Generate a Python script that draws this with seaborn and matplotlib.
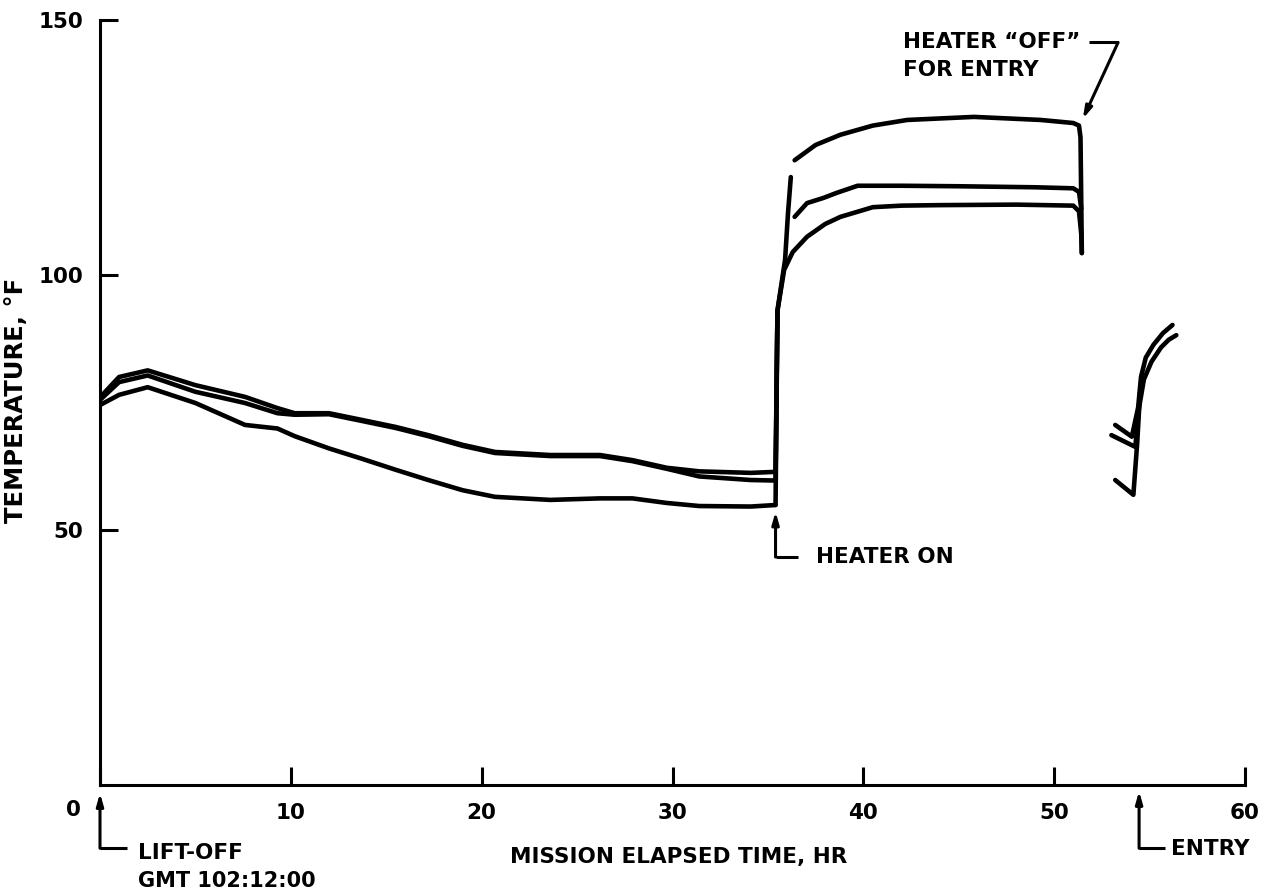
import numpy as np
import pandas as pd
import matplotlib
matplotlib.use('Agg')
import matplotlib.pyplot as plt
import seaborn as sns

# ==================================================
# Data (hours, deg F)
# ==================================================
# cruise, heater off: three sensors share one time base
cruise_hr = [0, 1, 2.5, 5, 7.6, 9.3, 10.2, 12, 13.7, 15.5, 17.2, 19, 20.7,
             23.6, 26.2, 27.9, 29.7, 31.4, 34.1, 35.4]
cruise_a = [76, 80, 81.3, 78.4, 76.1, 73.9, 72.9, 72.9, 71.6, 70.2, 68.6, 66.7,
            65.3, 64.7, 64.7, 63.7, 62.2, 61.5, 61.2, 61.4]
cruise_b = [75.5, 79, 80.3, 77.1, 74.9, 72.9, 72.6, 72.7, 71.4, 70.0, 68.4,
            66.5, 65.1, 64.5, 64.5, 63.5, 62.0, 60.5, 59.8, 59.7]
cruise_c = [74.5, 76.5, 78, 74.9, 70.6, 69.9, 68.4, 66.0, 64.0, 61.8, 59.8,
            57.8, 56.5, 55.9, 56.2, 56.2, 55.3, 54.7, 54.6, 54.9]

# heater on
rise_a_hr = [35.4, 35.5, 35.9, 36.05, 36.2]
rise_a = [61.4, 93, 103, 112, 119.2]
heat_a_hr = [36.4, 37.5, 38.8, 40.5, 42.3, 45.8, 49.3, 51.0, 51.3, 51.38, 51.45]
heat_a = [122.5, 125.5, 127.5, 129.3, 130.4, 131, 130.4, 129.8, 129.3, 127, 104.3]

rise_b_hr = [35.4, 35.5]
rise_b = [59.7, 93]
heat_b_hr = [36.4, 37.05, 37.9, 38.6, 39.7, 42, 45, 49, 51, 51.3, 51.42]
heat_b = [111.4, 114.1, 115.1, 116.1, 117.5, 117.5, 117.4, 117.2, 117.0, 116.3, 113]

heat_c_hr = [35.4, 35.5, 35.85, 36.3, 37.05, 38.0, 38.8, 40.5, 42, 44, 48, 51,
             51.3, 51.42, 51.45]
heat_c = [54.9, 93, 101, 104.5, 107.5, 110, 111.4, 113.3, 113.6, 113.7, 113.8,
          113.6, 112.5, 108, 104.3]

# entry
entry_a_hr = [53.2, 54.07, 54.4, 54.55, 54.8, 55.2, 55.7, 56.2]
entry_a = [70.6, 68.3, 74, 80, 83.8, 86.3, 88.6, 90.2]
entry_b_hr = [53.0, 54.25, 54.45, 54.7, 55.1, 55.6, 56.0, 56.4]
entry_b = [68.6, 66.3, 74, 79.5, 83, 85.8, 87.3, 88.2]
entry_c_hr = [53.2, 54.15, 54.35, 54.5]
entry_c = [59.8, 56.9, 67, 77]

x_ticks = [0, 10, 20, 30, 40, 50, 60]
y_ticks = [50, 100, 150]

# ==================================================
# Long table, one "trace" per unbroken pen stroke
# ==================================================
pieces = [
    ('cruise_a', cruise_hr, cruise_a), ('cruise_b', cruise_hr, cruise_b),
    ('cruise_c', cruise_hr, cruise_c),
    ('rise_a', rise_a_hr, rise_a), ('heat_a', heat_a_hr, heat_a),
    ('rise_b', rise_b_hr, rise_b), ('heat_b', heat_b_hr, heat_b),
    ('heat_c', heat_c_hr, heat_c),
    ('entry_a', entry_a_hr, entry_a), ('entry_b', entry_b_hr, entry_b),
    ('entry_c', entry_c_hr, entry_c),
]
df = pd.concat([pd.DataFrame({'trace': name, 'hr': hr, 'temp': t})
                for name, hr, t in pieces], ignore_index=True)

# ==================================================
# Plot
# ==================================================
sns.set_style('ticks')
plt.rcParams['font.family'] = ['DejaVu Sans']
plt.rcParams['font.weight'] = 'bold'
for k in ['text.color', 'axes.labelcolor', 'xtick.color', 'ytick.color']:
    plt.rcParams[k] = 'black'
FS = 15.5

fig = plt.figure(figsize=(12.72, 8.92), dpi=100)
ax = fig.add_axes([100 / 1272, 1 - 785 / 892, 1145 / 1272, 765 / 892])

sns.lineplot(data=df, x='hr', y='temp', units='trace', estimator=None,
             sort=False, color='black', linewidth=3.3, legend=False, ax=ax,
             solid_capstyle='round', solid_joinstyle='round')

ax.set_xlim(0, 60)
ax.set_ylim(0, 150)
sns.despine(ax=ax)
for s in ['left', 'bottom']:
    ax.spines[s].set_linewidth(2.2)
    ax.spines[s].set_color('black')

ax.set_xticks(x_ticks)
ax.set_xticklabels([''] + [str(v) for v in x_ticks[1:]])
ax.set_yticks(y_ticks)
ax.set_yticklabels([str(v) for v in y_ticks])
ax.tick_params(direction='in', length=13, width=2.2, colors='black',
               labelsize=FS)
ax.tick_params(axis='x', pad=13)
ax.tick_params(axis='y', pad=12)
for lab in ax.get_xticklabels() + ax.get_yticklabels():
    lab.set_fontweight('bold')
ax.text(-1.4, -5.0, '0', fontsize=FS, fontweight='bold', ha='center', va='center')

ax.set_xlabel('MISSION ELAPSED TIME, HR', fontsize=FS, fontweight='bold')
ax.set_ylabel('TEMPERATURE, °F', fontsize=17.5, fontweight='bold')
ax.xaxis.set_label_coords(0.505, -0.081)
ax.yaxis.set_label_coords(-0.063, 0.503)

arrow = dict(arrowstyle='-|>,head_length=0.7,head_width=0.2', color='black',
             lw=2.2, shrinkA=0, shrinkB=0)
lead = dict(color='black', lw=2.2, clip_on=False, solid_capstyle='butt')

# heater on
ax.plot([36.6, 35.4], [44.7, 44.7], **lead)
ax.annotate('', xy=(35.4, 53.6), xytext=(35.4, 44.7), arrowprops=arrow)
ax.text(37.5, 44.7, 'HEATER ON', fontsize=FS, fontweight='bold', va='center')

# heater off
ax.plot([51.8, 53.35], [145.6, 145.6], **lead)
ax.annotate('', xy=(51.5, 130.6), xytext=(53.35, 145.6), arrowprops=arrow)
ax.text(42.1, 145.7, 'HEATER \u201cOFF\u201d', fontsize=FS, fontweight='bold', va='center')
ax.text(42.1, 140.2, 'FOR ENTRY', fontsize=FS, fontweight='bold', va='center')

# lift-off
ax.plot([1.4, 0], [-12.4, -12.4], **lead)
ax.annotate('', xy=(0, -1.6), xytext=(0, -12.4), arrowprops=arrow,
            annotation_clip=False)
ax.text(2.0, -13.3, 'LIFT-OFF', fontsize=FS, fontweight='bold', va='center')
ax.text(2.0, -18.8, 'GMT 102:12:00', fontsize=FS - 0.5, fontweight='bold', va='center')

# entry
ax.plot([55.8, 54.45], [-12.4, -12.4], **lead)
ax.annotate('', xy=(54.45, -1.2), xytext=(54.45, -12.4), arrowprops=arrow,
            annotation_clip=False)
ax.text(56.1, -12.6, 'ENTRY', fontsize=FS, fontweight='bold', va='center')

fig.savefig('out.png', dpi=100, facecolor='white')
